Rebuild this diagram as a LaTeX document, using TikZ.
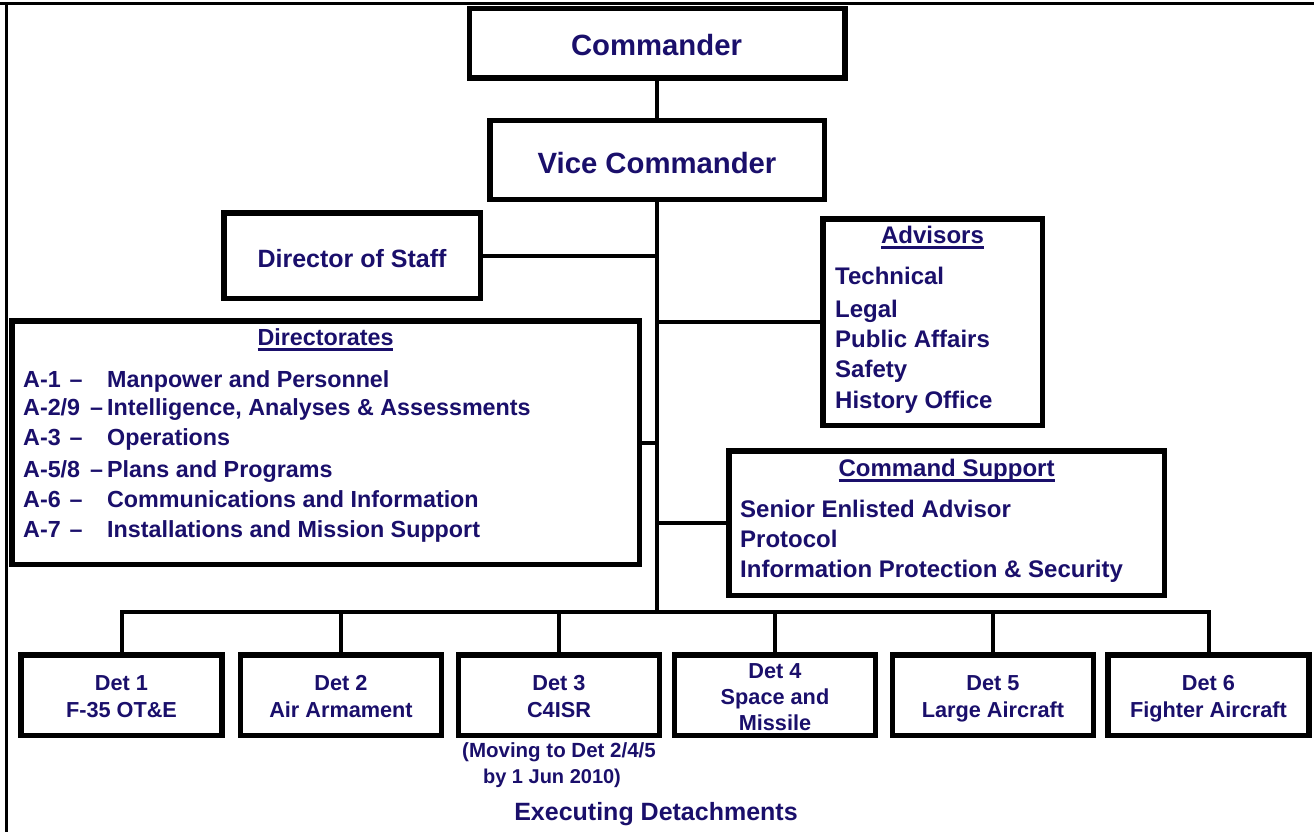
\documentclass[tikz,border=0pt]{standalone}
\usepackage{fontspec}
\setmainfont{Liberation Sans}
\definecolor{navy}{HTML}{1A0F6B}
% underline set just below the baseline, crossing descenders
\newcommand\myul[1]{\setbox0\hbox{#1}\rlap{\rule[-5.6pt]{\wd0}{2.2pt}}\box0}
\newcommand\fsz[1]{\fontsize{#1}{#1}\selectfont\bfseries}
\begin{document}
\begin{tikzpicture}[x=1pt,y=-1pt,
  box/.style={draw=black, line width=5.5pt, fill=white, inner sep=0pt},
  link/.style={draw=black, line width=4pt},
  frame/.style={draw=black, line width=3pt},
  lbl/.style={text=navy, inner sep=0pt, font=\fsz{#1}},
  lbl/.default=24,
  det/.style={box, minimum width=201pt, minimum height=80.5pt}]
\useasboundingbox (0,0) rectangle (1314,832);

% page frame (top and left edges)
\draw[frame] (0,4) -- (1314,4);
\draw[frame] (6,4) -- (6,832);

% boxes
\node[box, minimum width=375.5pt, minimum height=69.5pt] (cmd) at (657,43.5) {};
\node[box, minimum width=334.5pt, minimum height=78.5pt] (vice) at (657,160) {};
\node[box, minimum width=256.5pt, minimum height=85.5pt] (dos) at (352,255.5) {};
\node[box, minimum width=627.5pt, minimum height=243.5pt] (dirs) at (325.5,442.5) {};
\node[box, minimum width=219.5pt, minimum height=206.5pt] (adv) at (932.5,322) {};
\node[box, minimum width=435.5pt, minimum height=144.5pt] (cs) at (946.5,523) {};
\node[det] (d1) at (121.5,695) {};
\node[det] (d2) at (341,695) {};
\node[det] (d3) at (559,695) {};
\node[det] (d4) at (775,695) {};
\node[det] (d5) at (993,695) {};
\node[det] (d6) at (1208.5,695) {};

% connectors
\coordinate (bus) at (657,612);
\draw[link] (cmd.south) -- (vice.north);
\draw[link] (vice.south) -- (bus);
\draw[link] (dos.east) -- (dos.east -| bus);
\draw[link] (adv.west) -- (adv.west -| bus);
\draw[link] (dirs.east) -- (dirs.east -| bus);
\draw[link] (cs.west) -- (cs.west -| bus);
\draw[link] (d1.north) |- (bus) -| (d6.north);
\foreach \d in {d2,d3,d4,d5} \draw[link] (\d.north) -- (\d.north |- bus);

% top boxes
\node[lbl=29.3, anchor=base] (cmdT) at (656.5,56) {Commander};
\node[lbl=29.3, anchor=base] (viceT) at (657,173) {Vice Commander};
\node[lbl=25, anchor=base] (dosT) at (352,267) {Director of Staff};

% directorates
\node[lbl=23.3, anchor=base] (dirsT) at (325.5,345) {\myul{Directorates}};
\foreach \n/\y/\a/\t in {1/387/{A-1\hspace{9pt}–}/{Manpower and Personnel},
    2/415/{A-2/9\hfill–\hspace{4pt}}/{Intelligence, Analyses \& Assessments},
    3/445/{A-3\hspace{9pt}–}/{Operations},
    4/477/{A-5/8\hfill–\hspace{4pt}}/{Plans and Programs},
    5/507/{A-6\hspace{9pt}–}/{Communications and Information},
    6/537/{A-7\hspace{9pt}–}/{Installations and Mission Support}}
  \node[lbl=23.3, anchor=base west] (dir\n) at (23,\y) {\makebox[84pt][l]{\a}\t};

% advisors
\node[lbl=24, anchor=base] (advT) at (932.5,243) {\myul{Advisors}};
\foreach \n/\y/\t in {1/284/Technical, 2/317/Legal, 3/347/Public Affairs,
    4/377/Safety, 5/408/History Office}
  \node[lbl=24, anchor=base west] (adv\n) at (835,\y) {\t};

% command support
\node[lbl=24, anchor=base] (csT) at (946.5,476) {\myul{Command Support}};
\foreach \n/\y/\t in {1/517/Senior Enlisted Advisor, 2/547/Protocol,
    3/577/Information Protection \& Security}
  \node[lbl=24, anchor=base west] (cs\n) at (740,\y) {\t};

% detachments
\foreach \d/\a/\b in {d1/Det 1/F-35 OT\&E, d2/Det 2/Air Armament, d3/Det 3/C4ISR,
    d5/Det 5/Large Aircraft, d6/Det 6/Fighter Aircraft} {
  \node[lbl=21.7, anchor=base] (\d a) at (\d.center |- 0,690) {\a};
  \node[lbl=21.7, anchor=base] (\d b) at (\d.center |- 0,717) {\b};
}
\node[lbl=21.7, anchor=base] (d4a) at (d4.center |- 0,678) {Det 4};
\node[lbl=21.7, anchor=base] (d4b) at (d4.center |- 0,704) {Space and};
\node[lbl=21.7, anchor=base] (d4c) at (d4.center |- 0,730) {Missile};

\node[lbl=20.5, anchor=base] (note1) at (559,757) {(Moving to Det 2/4/5};
\node[lbl=20, anchor=base] (note2) at (552,783) {by 1 Jun 2010)};
\node[lbl=25, anchor=base] (exec) at (656,820) {Executing Detachments};
\end{tikzpicture}
\end{document}
